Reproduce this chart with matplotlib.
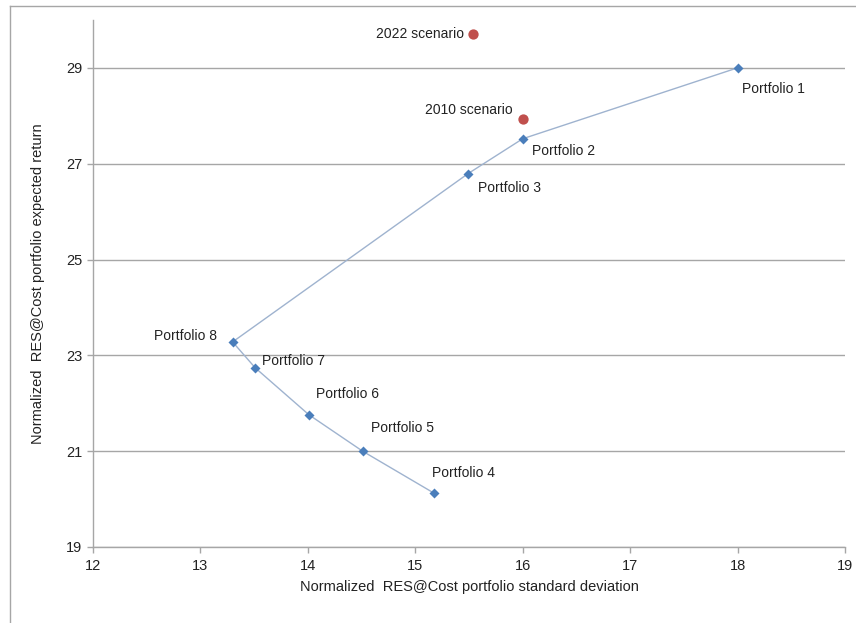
import matplotlib.pyplot as plt
from matplotlib.lines import Line2D

plt.rcParams['font.family'] = ['Liberation Sans', 'DejaVu Sans']

# efficient frontier portfolios, in the order the line joins them
names = ['Portfolio 1', 'Portfolio 2', 'Portfolio 3', 'Portfolio 8',
         'Portfolio 7', 'Portfolio 6', 'Portfolio 5', 'Portfolio 4']
std_dev = [18.0, 16.0, 15.49, 13.30, 13.51, 14.01, 14.51, 15.17]
exp_ret = [29.0, 27.52, 26.79, 23.28, 22.74, 21.76, 21.0, 20.13]

# scenarios
scen_names = ['2022 scenario', '2010 scenario']
scen_std = [15.54, 16.0]
scen_ret = [29.71, 27.94]

# label offsets in points (dx, dy, horizontal alignment)
label_pos = {
    'Portfolio 1': (3, -15, 'left'),
    'Portfolio 2': (7, -9, 'left'),
    'Portfolio 3': (7, -10, 'left'),
    'Portfolio 8': (-11, 4, 'right'),
    'Portfolio 7': (5, 5, 'left'),
    'Portfolio 6': (5, 15, 'left'),
    'Portfolio 5': (6, 17, 'left'),
    'Portfolio 4': (-1, 14, 'left'),
    '2022 scenario': (-7, 0, 'right'),
    '2010 scenario': (-7, 6, 'right'),
}

fig = plt.figure(figsize=(8.56, 6.23), dpi=100)
ax = fig.add_axes([0.1086, 0.122, 0.8785, 0.846])

ax.plot(std_dev, exp_ret, color='#9fb3cf', lw=1.0, zorder=2)
ax.scatter(std_dev, exp_ret, marker='D', s=26, color='#4a7ebb', zorder=3,
           linewidths=0)
ax.scatter(scen_std, scen_ret, marker='o', s=55, color='#c0504d', zorder=3,
           linewidths=0)

for n, x, y in zip(names + scen_names, std_dev + scen_std, exp_ret + scen_ret):
    dx, dy, ha = label_pos[n]
    ax.annotate(n, (x, y), xytext=(dx, dy), textcoords='offset points',
                ha=ha, va='center', fontsize=10, color='#222222')

ax.set_xlim(12, 19)
ax.set_ylim(19, 30)
ax.set_xticks(range(12, 20))
ax.set_yticks(range(19, 30, 2))
ax.grid(axis='y', color='#a6a6a6', lw=1.0)
ax.set_axisbelow(True)

for side in ['top', 'right']:
    ax.spines[side].set_visible(False)
for side in ['left', 'bottom']:
    ax.spines[side].set_color('#a6a6a6')
    ax.spines[side].set_linewidth(1.0)
ax.tick_params(axis='both', colors='#a6a6a6', labelcolor='#222222',
               labelsize=10.5, length=4, width=1.0)
ax.tick_params(axis='x', pad=5)

ax.set_xlabel('Normalized  RES@Cost portfolio standard deviation',
              fontsize=10.5, color='#222222', labelpad=5)
ax.set_ylabel('Normalized  RES@Cost portfolio expected return',
              fontsize=10.5, color='#222222', labelpad=15)

# outer frame lines along the top and left edges
fig.add_artist(Line2D([0.0117, 1.0], [0.990, 0.990], color='#a6a6a6',
                      lw=1.0, transform=fig.transFigure))
fig.add_artist(Line2D([0.0117, 0.0117], [0.0, 0.990], color='#a6a6a6',
                      lw=1.0, transform=fig.transFigure))

fig.savefig('out.png', dpi=100)
